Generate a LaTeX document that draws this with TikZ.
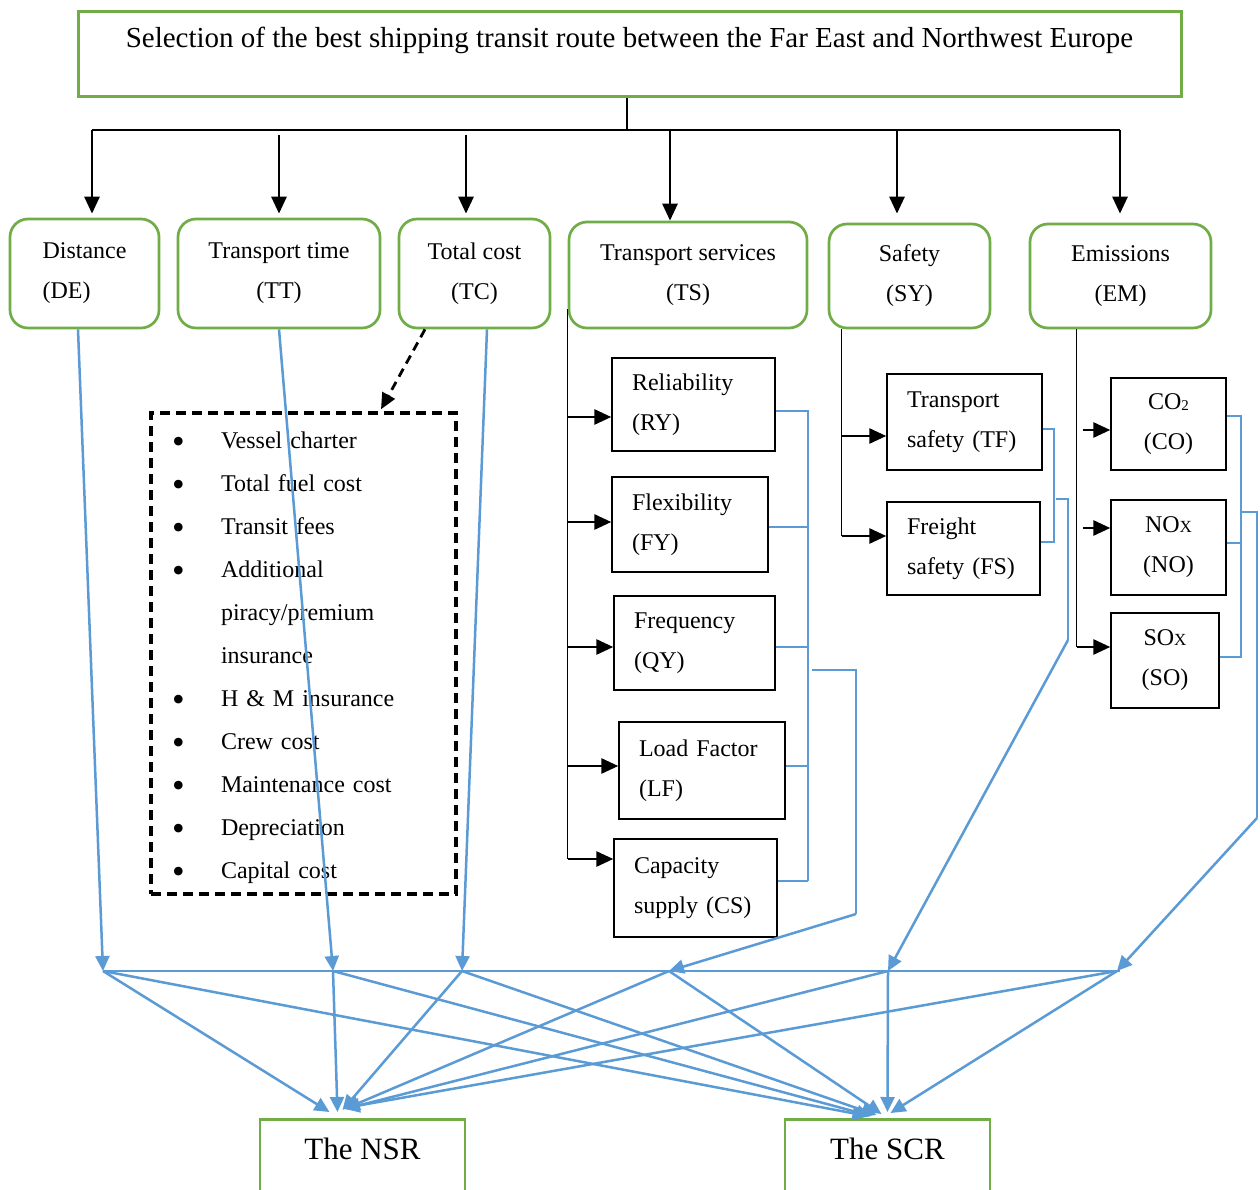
\documentclass[tikz,border=0pt]{standalone}
\usepackage{fontspec}
\setmainfont{Liberation Serif}
\usetikzlibrary{arrows.meta,calc}
\definecolor{leaf}{HTML}{70AD47}
\definecolor{sky}{HTML}{5B9BD5}
\newcommand{\costitem}{\makebox[70pt][l]{\hspace*{21pt}{\fontsize{36}{36}\selectfont\raisebox{-5pt}{\textbullet}}}}
\newcommand{\costcont}{\makebox[70pt][l]{}}

\begin{document}
\begin{tikzpicture}[x=1pt,y=-1pt,
  txt/.style={font=\fontsize{24}{40}\selectfont},
  catbox/.style={txt, draw=leaf, line width=2.7pt, rounded corners=18pt, align=center, inner sep=0pt},
  subbox/.style={txt, draw=black, line width=1.4pt, align=left, inner xsep=20pt, inner ysep=0pt},
  embox/.style={txt, draw=black, line width=1.4pt, align=center, inner sep=0pt},
  routebox/.style={draw=leaf, line width=2.7pt, font=\fontsize{31}{31}\selectfont, anchor=north,
    minimum width=205pt, inner ysep=0pt, text height=40pt, text depth=40pt},
  spine/.style={draw=black, line width=1.6pt},
  blkarr/.style={draw=black, line width=2.8pt, -{Triangle[length=17pt,width=15pt]}},
  bthin/.style={draw=sky, line width=1.4pt},
  barr/.style={draw=sky, line width=2.5pt, -{Triangle[length=15pt,width=14pt]}},
]
\useasboundingbox (0,0) rectangle (1260,1190);
\fill[white] (0,0) rectangle (1260,1190);

% goal
\node[draw=leaf, line width=3pt, anchor=north, minimum width=1103pt, inner ysep=4pt,
      text height=32pt, text depth=45pt, font=\fontsize{29}{29}\selectfont]
  (title) at (629.5,10) {Selection of the best shipping transit route between the Far East and Northwest Europe};

% criteria
\node[catbox, minimum width=149pt, minimum height=109pt, align=left] (DE) at (84.5,273.5) {Distance\\(DE)};
\node[catbox, minimum width=202pt, minimum height=109pt] (TT) at (279,273.5) {Transport time\\(TT)};
\node[catbox, minimum width=151pt, minimum height=109pt] (TC) at (474.5,273.5) {Total cost\\(TC)};
\node[catbox, minimum width=238pt, minimum height=106pt] (TS) at (688,275) {Transport services\\(TS)};
\node[catbox, minimum width=161pt, minimum height=104pt] (SY) at (909.5,276) {Safety\\(SY)};
\node[catbox, minimum width=181pt, minimum height=104pt] (EM) at (1120.5,276) {Emissions\\(EM)};

% hierarchy connectors
\coordinate (bus) at (627,130);
\draw[spine] (title.south -| bus) -- (bus);
\draw[spine] (bus -| 92,0) -- (bus -| 1120,0);
\draw[blkarr, shorten >=4pt] (92,130) -- (DE.north -| 92,0);
\draw[blkarr, shorten >=4pt] (279,135) -- (TT.north -| 279,0);
\draw[blkarr, shorten >=4pt] (466,135) -- (TC.north -| 466,0);
\draw[blkarr] (670,130) -- (TS.north -| 670,0);
\draw[blkarr, shorten >=9pt] (897,130) -- (SY.north -| 897,0);
\draw[blkarr, shorten >=9pt] (1120,130) -- (EM.north -| 1120,0);

% cost items
\node[draw=black, line width=3.4pt, dash pattern=on 10pt off 6pt, minimum height=481pt,
      text width=305pt, inner xsep=0pt, inner ysep=0pt, align=left,
      font=\fontsize{24}{43}\selectfont] (costs) at (303.5,653.5)
  {\rule{0pt}{25pt}\costitem Vessel charter\\
   \costitem Total fuel cost\\
   \costitem Transit fees\\
   \costitem Additional\\
   \costcont piracy/premium\\
   \costcont insurance\\
   \costitem H \& M insurance\\
   \costitem Crew cost\\
   \costitem Maintenance cost\\
   \costitem Depreciation\\
   \costitem Capital cost};
\draw[draw=black, line width=2.8pt, dash pattern=on 9pt off 6pt, -{Triangle[length=16pt,width=14pt]}]
  ($(TC.south)+(-49.5,0)$) -- ($(costs.north)+(77.5,-2)$);

% transport services sub-criteria
\node[subbox, text width=123pt, minimum height=93pt] (RY) at (693.5,404.5) {Reliability\\(RY)};
\node[subbox, text width=116pt, minimum height=95pt] (FY) at (690,524.5) {Flexibility\\(FY)};
\node[subbox, text width=121pt, minimum height=94pt] (QY) at (694.5,643) {Frequency\\(QY)};
\node[subbox, text width=126pt, minimum height=97pt] (LF) at (702,770.5) {Load Factor\\(LF)};
\node[subbox, text width=123pt, minimum height=98pt] (CS) at (695.5,888) {Capacity\\supply (CS)};

\coordinate (tsspine) at ($(TS.south west)+(0,-20)$);
\draw[spine] (tsspine) -- (tsspine |- 0,859);
\draw[blkarr] (tsspine |- 0,417) -- (RY.west |- 0,417);
\draw[blkarr] (tsspine |- 0,522) -- (FY.west |- 0,522);
\draw[blkarr] (tsspine |- 0,647) -- (QY.west |- 0,647);
\draw[blkarr] (tsspine |- 0,766) -- (LF.west |- 0,766);
\draw[blkarr] (tsspine |- 0,859) -- (CS.west |- 0,859);

% safety sub-criteria
\node[subbox, text width=115pt, minimum height=96pt] (TF) at (964.5,422) {Transport\\safety (TF)};
\node[subbox, text width=113pt, minimum height=93pt] (FS) at (963.5,548.5) {Freight\\safety (FS)};
\coordinate (syspine) at ($(SY.south west)+(14,0)$);
\draw[spine] (syspine) -- (syspine |- 0,536);
\draw[blkarr] (syspine |- 0,436) -- (TF.west |- 0,436);
\draw[blkarr] (syspine |- 0,536) -- (FS.west |- 0,536);

% emission sub-criteria
\node[embox, minimum width=115pt, minimum height=92pt] (CO) at (1168.5,424)
  {CO\raisebox{-1.5pt}{\fontsize{15}{15}\selectfont 2}\\(CO)};
\node[embox, minimum width=115pt, minimum height=95pt] (NO) at (1168.5,547.5)
  {NO{\fontsize{17}{17}\selectfont X}\\(NO)};
\node[embox, minimum width=108pt, minimum height=95pt] (SO) at (1165,660.5)
  {SO{\fontsize{17}{17}\selectfont X}\\(SO)};
\coordinate (emspine) at ($(EM.south west)+(48,0)$);
\draw[spine] (emspine) -- (emspine |- 0,647);
\draw[blkarr] (1083,430) -- (CO.west |- 0,430);
\draw[blkarr] (1083,528) -- (NO.west |- 0,528);
\draw[blkarr] (emspine |- 0,647) -- (SO.west |- 0,647);

% grouping brackets
\draw[bthin] (RY.east |- 0,411) -- (808,411) -- (808,881);
\draw[bthin] (FY.east |- 0,527) -- (808,527);
\draw[bthin] (QY.east |- 0,647) -- (808,647);
\draw[bthin] (LF.east |- 0,766) -- (808,766);
\draw[bthin] (CS.east |- 0,881) -- (808,881);
\draw[bthin] (812,670) -- (856,670) -- (856,914);

\draw[bthin] (TF.east |- 0,429) -- (1054,429) -- (1054,542) -- (FS.east |- 0,542);
\draw[bthin] (1056,499) -- (1068,499) -- (1068,640);

\draw[bthin] (CO.east |- 0,416) -- (1241,416) -- (1241,657) -- (SO.east |- 0,657);
\draw[bthin] (NO.east |- 0,543) -- (1241,543);
\draw[bthin] (1241,512) -- (1257,512) -- (1257,818);

% collection points
\coordinate (j1) at (103,971);
\coordinate (j2) at (333,971);
\coordinate (j3) at (462,971);
\coordinate (j4) at (669,971);
\coordinate (j5) at (888,971);
\coordinate (j6) at (1117,971);
\draw[bthin] (j1) -- (1120,971);

\draw[barr] ($(DE.south)+(-6.5,0)$) -- (j1);
\draw[barr] (TT.south) -- (j2);
\draw[barr] ($(TC.south)+(12.5,0)$) -- (j3);
\draw[barr] (856,914) -- (j4);
\draw[barr] (1068,640) -- (j5);
\draw[barr] (1257,818) -- (j6);

% alternatives
\node[routebox] (NSR) at (362.5,1118) {The NSR};
\node[routebox] (SCR) at (887.5,1118) {The SCR};

\draw[barr] (j1) -- ($(NSR.north)+(-33,-6)$);
\draw[barr] (j2) -- ($(NSR.north)+(-25,-6)$);
\draw[barr] (j3) -- ($(NSR.north)+(-20,-8)$);
\draw[barr] (j4) -- ($(NSR.north)+(-18,-9)$);
\draw[barr] (j5) -- ($(NSR.north)+(-18,-9)$);
\draw[barr] (j6) -- ($(NSR.north)+(-18,-10)$);

\draw[barr] (j1) -- ($(SCR.north)+(-20,-2)$);
\draw[barr] (j2) -- ($(SCR.north)+(-16,-2)$);
\draw[barr] (j3) -- ($(SCR.north)+(-11,-3)$);
\draw[barr] (j4) -- ($(SCR.north)+(-6,-4)$);
\draw[barr] (j5) -- ($(SCR.north)+(0,-6)$);
\draw[barr] (j6) -- ($(SCR.north)+(3,-5)$);
\end{tikzpicture}
\end{document}
